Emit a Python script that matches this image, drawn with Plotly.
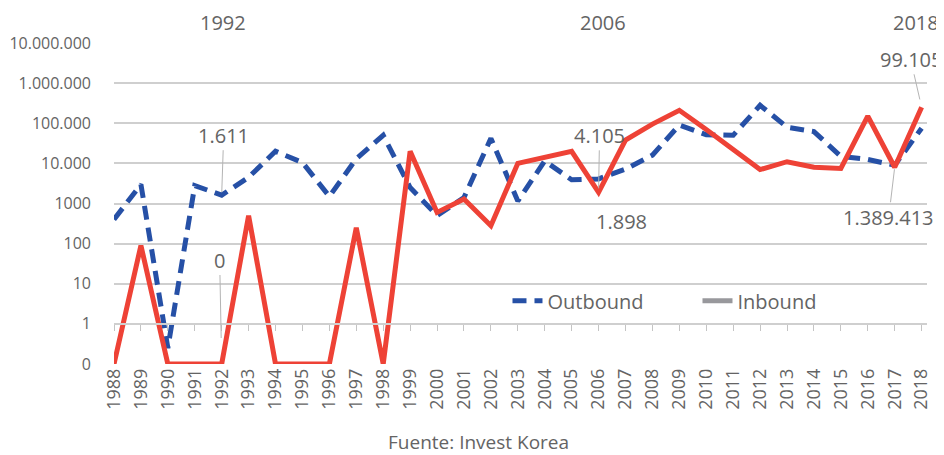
import math
import plotly.graph_objects as go

years = list(range(1988, 2019))
outbound = [400, 3000, 0.25, 2800, 1611, 4500, 20000, 10500, 1500, 13000, 50000, 2500,
            500, 1400, 42000, 1150, 11500, 3900, 4105, 7200, 16000, 90000, 52000, 50000,
            280000, 80000, 62000, 15000, 12500, 9000, 75000]
inbound = [0, 90, 0, 0, 0, 500, 0, 0, 0, 250, 0, 20000, 600, 1300, 280, 10000, 14000,
           20000, 1898, 38000, 95000, 210000, 70000, 22000, 7000, 11000, 8000, 7500,
           150000, 8000, 250000]
ytick_vals = [0.1, 1, 10, 100, 1000, 1e4, 1e5, 1e6, 1e7]
ytick_text = ["0", "1", "10", "100", "1000", "10.000", "100.000", "1.000.000", "10.000.000"]

ZERO = 0.1  # a zero is drawn on the bottom "0" line of the log axis
inbound_plot = [v if v > 0 else ZERO for v in inbound]

FONT = "Open Sans"
GRAY = "#646464"
BLUE = "#2650A6"
RED = "#EE4236"

fig = go.Figure()
fig.add_trace(go.Scatter(x=years, y=outbound, mode="lines", name="Outbound",
                         line=dict(color=BLUE, width=5, dash="14px,8px")))
fig.add_trace(go.Scatter(x=years, y=inbound_plot, mode="lines", name="Inbound",
                         showlegend=False, xaxis="x2",
                         line=dict(color=RED, width=5)))
fig.add_trace(go.Scatter(x=[None], y=[None], mode="lines", name="Inbound",
                         line=dict(color="#98989c", width=5)))

xr = [1988, 2018.2]
# the page adds an 8px body margin at top/left, so the figure is 936x447
fig.update_layout(
    width=936, height=447,
    margin=dict(l=106, r=17, t=35, b=91, autoexpand=False),
    paper_bgcolor="white", plot_bgcolor="white",
    font=dict(family=FONT, color=GRAY),
    xaxis=dict(range=xr, tickmode="array", tickvals=years, ticktext=[str(y) for y in years],
               tickangle=-90, tickfont=dict(size=18, color=GRAY), showgrid=False,
               zeroline=False, showline=False, ticks="", automargin=False),
    xaxis2=dict(range=xr, overlaying="x", anchor="free", position=0.125, side="bottom",
                tickmode="array", tickvals=years, showticklabels=False,
                ticks="outside", ticklen=6, tickwidth=1.2, tickcolor="#c4c4c4",
                showline=True, linecolor="#cfcfcf", linewidth=1.5, showgrid=False,
                zeroline=False, automargin=False),
    yaxis=dict(type="log", range=[-1, 7], tickmode="array", tickvals=ytick_vals,
               ticktext=ytick_text, tickfont=dict(size=16, color=GRAY),
               showgrid=True, gridcolor="#cfcfcf", gridwidth=1.5, zeroline=False,
               showline=False, ticks="", ticklabelstandoff=22, automargin=False),
    legend=dict(orientation="h", x=0.484, y=0.197, xanchor="left", yanchor="middle",
                font=dict(size=20, color=GRAY), entrywidth=145, bgcolor="rgba(0,0,0,0)"),
    showlegend=True,
)

ann_font = dict(size=20, color=GRAY, family=FONT)
top_y = 1.063
for yr, dx in [(1992, 1), (2006, 4), (2018, -6)]:
    fig.add_annotation(x=yr, y=top_y, xref="x", yref="paper", text=str(yr),
                       showarrow=False, font=ann_font, xanchor="center", yanchor="middle",
                       xshift=dx)

lead = dict(showarrow=True, arrowhead=0, arrowwidth=1, arrowcolor="#b4b4b4", font=ann_font)
fig.add_annotation(x=1992, y=math.log10(1611), text="1.611", ax=2, ay=-60, standoff=3, **lead)
fig.add_annotation(x=1992, y=math.log10(ZERO), text="0", ax=-2, ay=-104, standoff=26, **lead)
fig.add_annotation(x=2006, y=math.log10(1898), text="4.105", ax=1, ay=-57, standoff=4, **lead)
fig.add_annotation(x=2006, y=math.log10(1898), text="1.898", showarrow=False, font=ann_font,
                   xshift=23, yshift=-29)
fig.add_annotation(x=2018, y=math.log10(250000), text="99.105", ax=-11, ay=-48, standoff=8, **lead)
fig.add_annotation(x=2017, y=math.log10(8000), text="1.389.413", ax=-6, ay=50, standoff=2, **lead)

fig.add_annotation(x=0.448, y=-0.242, xref="paper", yref="paper", text="Fuente: Invest Korea",
                   showarrow=False, font=dict(size=19, color=GRAY, family=FONT),
                   xanchor="center", yanchor="middle")

fig.write_html("out.html")
